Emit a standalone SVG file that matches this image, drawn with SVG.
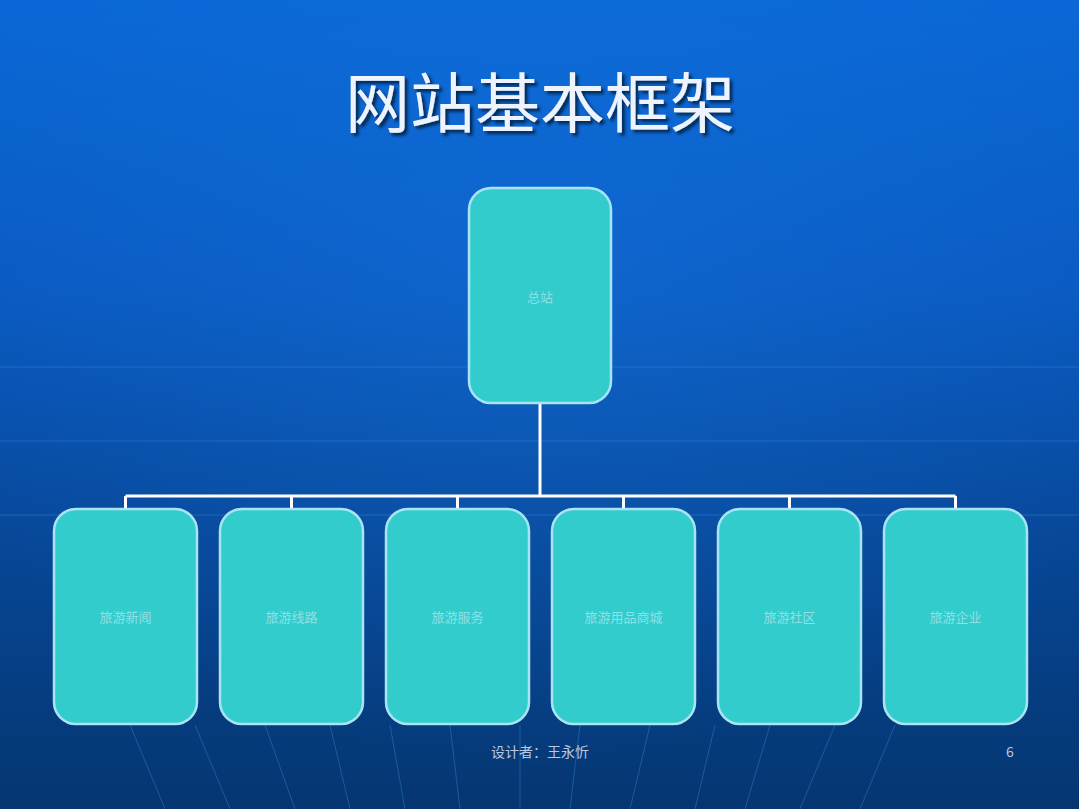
<svg xmlns="http://www.w3.org/2000/svg" width="1079" height="809" viewBox="0 0 1079 809">
<defs>
<linearGradient id="bg" x1="0" y1="0" x2="0" y2="1">
<stop offset="0" stop-color="#0a68d6"/>
<stop offset="0.35" stop-color="#0a5ac2"/>
<stop offset="0.65" stop-color="#07489a"/>
<stop offset="1" stop-color="#053670"/>
</linearGradient>
<radialGradient id="glow" cx="0.5" cy="0.35" r="0.6">
<stop offset="0" stop-color="#1a7fe6" stop-opacity="0.3"/>
<stop offset="1" stop-color="#1a7fe6" stop-opacity="0"/>
</radialGradient>
<filter id="ts" x="-10%" y="-20%" width="130%" height="150%">
<feDropShadow dx="3" dy="3" stdDeviation="1.5" flood-color="#001a40" flood-opacity="0.85"/>
</filter>
</defs>
<style>
.box{fill:#33cccc;stroke:#a8e4f4;stroke-width:2.5}
.lbl{font-family:"Noto Sans CJK SC",sans-serif;font-size:13px;fill:#8fe0e6;text-anchor:middle}
.conn{stroke:#ffffff;stroke-width:3;fill:none}
.deco{stroke:#3a8ee0;stroke-width:1;opacity:0.4}
.foot{font-family:"Noto Sans CJK SC",sans-serif;font-size:14px;fill:#b8c8e0}
</style>
<rect width="1079" height="809" fill="url(#bg)"/>
<rect width="1079" height="809" fill="url(#glow)"/>
<g id="decor">
<line class="deco" x1="0" y1="367" x2="1079" y2="367"/>
<line class="deco" x1="0" y1="441" x2="1079" y2="441"/>
<line class="deco" x1="0" y1="515" x2="1079" y2="515"/>
<line class="deco" x1="130" y1="725" x2="165" y2="809"/>
<line class="deco" x1="195" y1="725" x2="230" y2="809"/>
<line class="deco" x1="265" y1="725" x2="295" y2="809"/>
<line class="deco" x1="330" y1="725" x2="350" y2="809"/>
<line class="deco" x1="390" y1="725" x2="405" y2="809"/>
<line class="deco" x1="450" y1="725" x2="460" y2="809"/>
<line class="deco" x1="520" y1="725" x2="520" y2="809"/>
<line class="deco" x1="580" y1="725" x2="570" y2="809"/>
<line class="deco" x1="650" y1="725" x2="630" y2="809"/>
<line class="deco" x1="715" y1="725" x2="695" y2="809"/>
<line class="deco" x1="770" y1="725" x2="745" y2="809"/>
<line class="deco" x1="835" y1="725" x2="800" y2="809"/>
<line class="deco" x1="895" y1="725" x2="860" y2="809"/>
</g>
<text x="540" y="127" text-anchor="middle" font-family="Noto Sans CJK SC, sans-serif" font-size="65" font-weight="400" fill="#eef4ff" filter="url(#ts)">网站基本框架</text>
<g id="connectors">
<path class="conn" d="M540 403 V496 M125.5 496 H955.5 M125.5 496 V509 M291.5 496 V509 M457.5 496 V509 M623.5 496 V509 M789.5 496 V509 M955.5 496 V509"/>
</g>
<g id="n0"><rect class="box" x="469" y="188" width="142" height="215" rx="22"/><text class="lbl" x="540" y="302">总站</text></g>
<g id="n1"><rect class="box" x="54" y="509" width="143" height="215" rx="22"/><text class="lbl" x="125.5" y="622">旅游新闻</text></g>
<g id="n2"><rect class="box" x="220" y="509" width="143" height="215" rx="22"/><text class="lbl" x="291.5" y="622">旅游线路</text></g>
<g id="n3"><rect class="box" x="386" y="509" width="143" height="215" rx="22"/><text class="lbl" x="457.5" y="622">旅游服务</text></g>
<g id="n4"><rect class="box" x="552" y="509" width="143" height="215" rx="22"/><text class="lbl" x="623.5" y="622">旅游用品商城</text></g>
<g id="n5"><rect class="box" x="718" y="509" width="143" height="215" rx="22"/><text class="lbl" x="789.5" y="622">旅游社区</text></g>
<g id="n6"><rect class="box" x="884" y="509" width="143" height="215" rx="22"/><text class="lbl" x="955.5" y="622">旅游企业</text></g>
<text class="foot" x="540" y="757" text-anchor="middle">设计者：王永忻</text>
<text class="foot" x="1010" y="757" text-anchor="middle" font-family="Liberation Sans, sans-serif">6</text>
</svg>
